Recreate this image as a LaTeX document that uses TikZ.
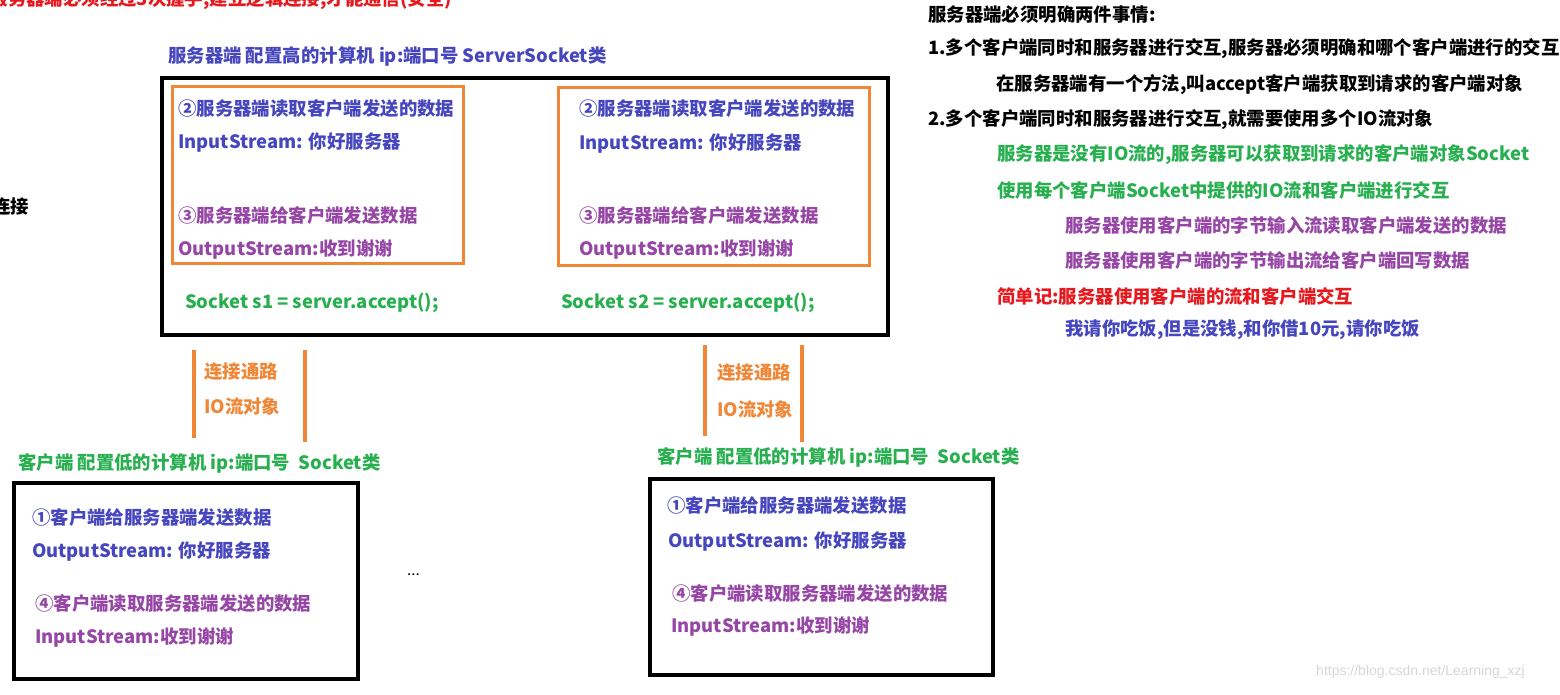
\documentclass[tikz,border=0pt]{standalone}
\usepackage{fontspec}
\setmainfont{Noto Sans CJK SC}
\newfontfamily\wmfont{Liberation Sans}
\definecolor{tblue}{RGB}{70,70,190}
\definecolor{tpurple}{RGB}{150,70,165}
\definecolor{tgreen}{RGB}{40,175,80}
\definecolor{torange}{RGB}{240,135,55}
\definecolor{tred}{RGB}{230,25,30}
\definecolor{twm}{RGB}{215,215,215}
\begin{document}
\begin{tikzpicture}[x=1pt,y=-1pt,
  txt/.style={anchor=west,inner sep=0pt,font=\fontsize{18.4}{22}\selectfont\bfseries},
  blacktxt/.style={txt,text=black},
  bluetxt/.style={txt,text=tblue},
  purptxt/.style={txt,text=tpurple},
  greentxt/.style={txt,text=tgreen},
  redtxt/.style={txt,text=tred},
  orangetxt/.style={txt,text=torange},
  blackbox/.style={draw=black,line width=4pt,inner sep=0pt},
  orangebox/.style={draw=torange,line width=3pt,inner sep=0pt},
  orangeline/.style={draw=torange,line width=3.5pt}]
\clip (0,0) rectangle (1560,694);
\fill[white] (0,0) rectangle (1560,694);

% top red (cut) text and left cut text
\node[redtxt,anchor=east] (topred) at (452,0) {服务器端必须经过3次握手,建立逻辑连接,才能通信(安全)};
\node[blacktxt] (leftcut) at (-8,207) {连接};

% server
\node[bluetxt] (srvlabel) at (168,56) {服务器端 配置高的计算机 ip:端口号 ServerSocket类};
\node[blackbox,minimum width=726pt,minimum height=257pt] (server) at (525,206.5) {};
\node[orangebox,minimum width=291pt,minimum height=177pt] (ob1) at (318,175) {};
\node[orangebox,minimum width=311pt,minimum height=178pt] (ob2) at (714,176.5) {};

\node[bluetxt] (s1a) at (178,108) {②服务器端读取客户端发送的数据};
\node[bluetxt] (s1b) at (178,143) {InputStream: 你好服务器};
\node[purptxt] (s1c) at (178,215) {③服务器端给客户端发送数据};
\node[purptxt] (s1d) at (178,250) {OutputStream:收到谢谢};
\node[greentxt] (s1e) at (185,303) {Socket s1 = server.accept();};

\node[bluetxt] (s2a) at (579,108) {②服务器端读取客户端发送的数据};
\node[bluetxt] (s2b) at (579,144) {InputStream: 你好服务器};
\node[purptxt] (s2c) at (579,215) {③服务器端给客户端发送数据};
\node[purptxt] (s2d) at (579,250) {OutputStream:收到谢谢};
\node[greentxt] (s2e) at (561,303) {Socket s2 = server.accept();};

% connection channels
\coordinate (l1t) at (194,350); \coordinate (l1b) at (194,438);
\coordinate (r1t) at (305,350); \coordinate (r1b) at (305,442);
\draw[orangeline] (l1t) -- (l1b);
\draw[orangeline] (r1t) -- (r1b);
\node[orangetxt] (c1a) at (204,372) {连接通路};
\node[orangetxt] (c1b) at (204,406) {IO流对象};

\coordinate (l2t) at (705,345); \coordinate (l2b) at (705,436);
\coordinate (r2t) at (802,345); \coordinate (r2b) at (802,442);
\draw[orangeline] (l2t) -- (l2b);
\draw[orangeline] (r2t) -- (r2b);
\node[orangetxt] (c2a) at (717,373) {连接通路};
\node[orangetxt] (c2b) at (717,409) {IO流对象};

% client 1
\node[greentxt] (cl1) at (18,463) {客户端 配置低的计算机 ip:端口号\ \ Socket类};
\node[blackbox,minimum width=344pt,minimum height=196pt] (client1) at (186,581) {};
\node[bluetxt] (k1a) at (32,517) {①客户端给服务器端发送数据};
\node[bluetxt] (k1b) at (32,552) {OutputStream: 你好服务器};
\node[purptxt] (k1c) at (35,603) {④客户端读取服务器端发送的数据};
\node[purptxt] (k1d) at (35,638) {InputStream:收到谢谢};

\node[blacktxt,font=\fontsize{15}{18}\selectfont] (dots) at (407,575) {...};

% client 2
\node[greentxt] (cl2) at (657,457) {客户端 配置低的计算机 ip:端口号\ \ Socket类};
\node[blackbox,minimum width=343pt,minimum height=196pt] (client2) at (821.5,577) {};
\node[bluetxt] (k2a) at (667,505) {①客户端给服务器端发送数据};
\node[bluetxt] (k2b) at (668,542) {OutputStream: 你好服务器};
\node[purptxt] (k2c) at (672,593) {④客户端读取服务器端发送的数据};
\node[purptxt] (k2d) at (671,627) {InputStream:收到谢谢};

% right notes
\node[blacktxt] (n1) at (928,15) {服务器端必须明确两件事情:};
\node[blacktxt] (n2) at (928,49) {1.多个客户端同时和服务器进行交互,服务器必须明确和哪个客户端进行的交互};
\node[blacktxt] (n3) at (996,85) {在服务器端有一个方法,叫accept客户端获取到请求的客户端对象};
\node[blacktxt] (n4) at (928,120) {2.多个客户端同时和服务器进行交互,就需要使用多个IO流对象};
\node[greentxt] (n5) at (997,155) {服务器是没有IO流的,服务器可以获取到请求的客户端对象Socket};
\node[greentxt] (n6) at (997,190) {使用每个客户端Socket中提供的IO流和客户端进行交互};
\node[purptxt] (n7) at (1065,225) {服务器使用客户端的字节输入流读取客户端发送的数据};
\node[purptxt] (n8) at (1065,260) {服务器使用客户端的字节输出流给客户端回写数据};
\node[redtxt] (n9) at (997,296) {简单记:服务器使用客户端的流和客户端交互};
\node[bluetxt] (n10) at (1065,330) {我请你吃饭,但是没钱,和你借10元,请你吃饭};

% watermark
\node[anchor=west,inner sep=0pt,text=twm,font=\wmfont\fontsize{14}{16}\selectfont] (wm) at (1316,672) {https://blog.csdn.net/Learning\_xzj};
\end{tikzpicture}
\end{document}
